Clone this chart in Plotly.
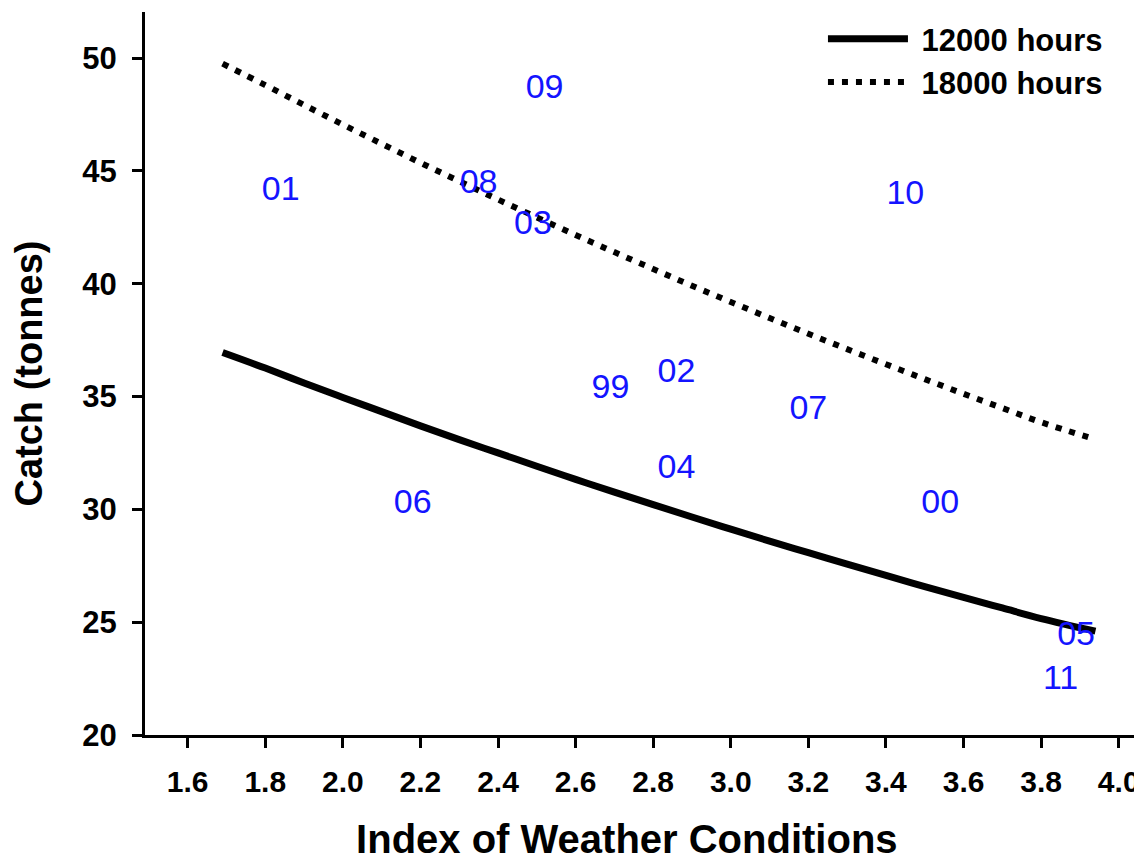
import plotly.graph_objects as go

# Weather index values for the fitted curves
weather_idx = [1.69, 1.8, 1.9, 2.0, 2.1, 2.2, 2.3, 2.4, 2.5, 2.6, 2.7, 2.8,
               2.9, 3.0, 3.1, 3.2, 3.3, 3.4, 3.5, 3.6, 3.7, 3.8, 3.94]
catch_12000 = [36.95, 36.26, 35.60, 34.96, 34.33, 33.70, 33.09, 32.50, 31.91, 31.33, 30.76, 30.21,
               29.66, 29.12, 28.59, 28.08, 27.57, 27.07, 26.58, 26.10, 25.63, 25.16, 24.60]
catch_18000 = [49.75, 48.80, 47.92, 47.05, 46.20, 45.36, 44.54, 43.73, 42.94, 42.16, 41.40, 40.65,
               39.91, 39.19, 38.48, 37.78, 37.10, 36.43, 35.77, 35.12, 34.49, 33.86, 33.10]

# Yearly observations (labels are two-digit years)
year_labels = ["01", "09", "08", "03", "10", "02", "99", "07", "04", "06", "00", "05", "11"]
year_weather = [1.84, 2.52, 2.35, 2.49, 3.45, 2.86, 2.69, 3.20, 2.86, 2.18, 3.54, 3.89, 3.85]
year_catch = [44.1, 48.6, 44.4, 42.6, 43.9, 36.0, 35.3, 34.4, 31.75, 30.2, 30.2, 24.35, 22.4]

x_tickvals = [1.6, 1.8, 2.0, 2.2, 2.4, 2.6, 2.8, 3.0, 3.2, 3.4, 3.6, 3.8, 4.0]
y_tickvals = [20, 25, 30, 35, 40, 45, 50]

FONT = "Liberation Sans, Arial, sans-serif"
NB = "\u00a0"

fig = go.Figure()
fig.add_trace(go.Scatter(
    x=weather_idx, y=catch_12000, mode="lines", name=NB + "12000 hours",
    line=dict(color="black", width=7, shape="spline")))
fig.add_trace(go.Scatter(
    x=weather_idx, y=catch_18000, mode="lines", name=NB + "18000 hours",
    line=dict(color="black", width=6, dash="6px,8px", shape="spline")))
fig.add_trace(go.Scatter(
    x=year_weather, y=year_catch, mode="text", text=year_labels,
    textposition="middle center", showlegend=False,
    textfont=dict(family=FONT, size=34, color="#1414ff")))

axis_common = dict(
    showline=True, linecolor="black", linewidth=3, ticks="outside",
    ticklen=10, tickwidth=3, tickcolor="black", showgrid=False, zeroline=False,
    mirror=False)

# page body has an 8px default margin, so the figure is sized to fit
fig.update_layout(
    width=1134, height=853,
    margin=dict(l=137, r=0, t=4, b=126),
    plot_bgcolor="white", paper_bgcolor="white",
    font=dict(family=FONT, color="black"),
    xaxis=dict(range=[1.49, 4.06], tickvals=x_tickvals,
               ticktext=[f"{v:.1f}" for v in x_tickvals],
               tickfont=dict(family=FONT, size=30, weight="bold"),
               ticklabelstandoff=8,
               title=dict(text="<b>Index of Weather Conditions" + NB * 3 + "</b>",
                          font=dict(family=FONT, size=40), standoff=38),
               automargin=False, **axis_common),
    yaxis=dict(range=[20, 52.04], tickvals=y_tickvals,
               tickfont=dict(family=FONT, size=31, weight="bold"),
               ticklabelstandoff=9,
               title=dict(text="<b>Catch (tonnes)</b>",
                          font=dict(family=FONT, size=38), standoff=29),
               automargin=False, **axis_common),
    legend=dict(x=0.68, y=1.0, xanchor="left", yanchor="top",
                bgcolor="rgba(0,0,0,0)", itemwidth=80,
                font=dict(family=FONT, size=31, weight="bold"),
                tracegroupgap=0),
)

fig.write_html("out.html")
